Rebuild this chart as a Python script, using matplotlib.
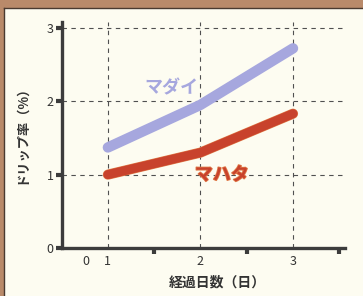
import matplotlib.pyplot as plt
import matplotlib.patheffects as pe
from matplotlib.patches import Rectangle

plt.rcParams['font.family'] = ['Noto Sans CJK JP', 'DejaVu Sans']

# data
days = [1, 2, 3]
madai = [1.37, 1.95, 2.72]
mahata = [1.0, 1.3, 1.83]
y_ticks = [0, 1, 2, 3]
x_labels = ["1", "2", "3"]

bg = "#fdfcf1"
axis_col = "#3c3c3c"
blue = "#a6a7de"
red = "#c8422c"

fig = plt.figure(figsize=(3.63, 2.96), dpi=100, facecolor=bg)

# scanned page edge (brown strip top and left)
fig.patches.append(Rectangle((0, 0.974), 1, 0.026, transform=fig.transFigure,
                             facecolor="#b98a6a", edgecolor="none", zorder=0))
fig.patches.append(Rectangle((0, 0), 0.012, 1, transform=fig.transFigure,
                             facecolor="#b98a6a", edgecolor="none", zorder=0))
fig.lines.append(plt.Line2D([0.012, 1], [0.974, 0.974], transform=fig.transFigure,
                            color="#4a3a30", lw=1.0))
fig.lines.append(plt.Line2D([0.012, 0.012], [0, 0.974], transform=fig.transFigure,
                            color="#4a3a30", lw=1.0))

ax = fig.add_axes([0.171, 0.162, 0.779, 0.764])
ax.set_facecolor(bg)
ax.set_xlim(0.505, 3.56)
ax.set_ylim(0, 3.08)

# dashed grid
for d in days:
    ax.axvline(d, color="#505050", lw=0.8, ls=(0, (4, 4)), zorder=1)
for t in y_ticks[1:]:
    ax.axhline(t, color="#505050", lw=0.8, ls=(0, (4, 4)), zorder=1)

ax.plot(days, madai, color=blue, lw=7.5, solid_capstyle="round",
        solid_joinstyle="round", zorder=3)
ax.plot(days, mahata, color=red, lw=6.5, solid_capstyle="round",
        solid_joinstyle="round", zorder=3,
        path_effects=[pe.Stroke(linewidth=7.3, foreground="#e07a48"), pe.Normal()])

ax.text(1.69, 2.18, "マダイ", color=blue, fontsize=13, fontweight="bold",
        ha="center", va="center", zorder=4)
ax.text(2.23, 1.0, "マハタ", color=red, fontsize=13, fontweight="bold",
        ha="center", va="center", zorder=4,
        path_effects=[pe.withStroke(linewidth=1.2, foreground="#e07a48")])

for s in ["top", "right"]:
    ax.spines[s].set_visible(False)
for s in ["left", "bottom"]:
    ax.spines[s].set_color(axis_col)
    ax.spines[s].set_linewidth(2.4)

ax.set_yticks(y_ticks)
ax.set_yticklabels([str(t) for t in y_ticks])
ax.tick_params(axis="y", length=4, width=3, color=axis_col, labelsize=9,
               labelcolor="#333333", pad=2)

ax.set_xticks([1.5, 2.5, 3.5])
ax.set_xticklabels([])
ax.tick_params(axis="x", length=4, width=3, color=axis_col)
ax.set_xticks([0.76] + days, minor=True)
ax.set_xticklabels(["0"] + x_labels, minor=True)
ax.tick_params(axis="x", which="minor", length=0, labelsize=9,
               labelcolor="#333333", pad=5)

fig.text(0.058, 0.557, "ドリップ率（%）", rotation=90, fontsize=9.5, fontweight="bold",
         color="#333333", ha="center", va="center")
fig.text(0.6, 0.044, "経過日数（日）", fontsize=10, fontweight="bold",
         color="#333333", ha="center", va="center")

fig.savefig("out.png", dpi=100, facecolor=bg)
